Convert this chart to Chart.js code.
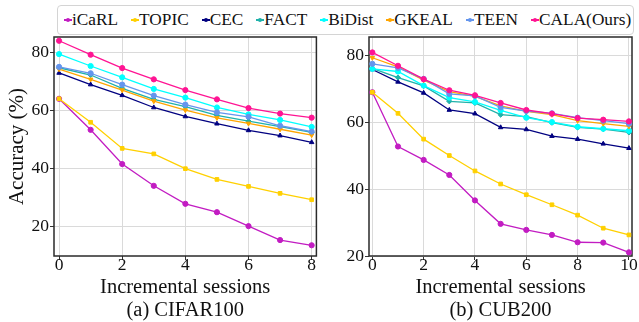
<!DOCTYPE html>
<html><head><meta charset="utf-8">
<script src="https://cdn.jsdelivr.net/npm/chart.js@4.4.1/dist/chart.umd.min.js"></script>
<style>
html,body{margin:0;padding:0;background:#fff;width:639px;height:322px;overflow:hidden;font-family:"Liberation Serif","Times New Roman",serif;}
#wrap{position:relative;width:639px;height:322px;}
.cv{position:absolute;top:0;height:322px;}
#c1box{left:0;width:320px;}
#c2box{left:320px;width:319px;}
#legend{position:absolute;left:57px;top:5px;width:569px;height:28px;border:1px solid #d4d4d4;border-radius:4px;background:#fff;display:flex;align-items:center;padding-left:6px;z-index:2;font-size:17.3px;color:#111;}
.item{display:flex;align-items:center;margin-right:13px;white-space:nowrap;}
.mk{position:relative;width:8px;height:8px;margin-right:0px;}
.mk .ln{position:absolute;left:0;top:3.4px;width:8px;height:1.3px;}
.mk .dt{position:absolute;left:2px;top:2px;width:4px;height:4px;border-radius:50%;}
</style>
</head><body>
<div id="wrap">
  <div id="legend"></div>
  <div class="cv" id="c1box"><canvas id="c1" width="320" height="322"></canvas></div>
  <div class="cv" id="c2box"><canvas id="c2" width="319" height="322"></canvas></div>
</div>
<script>
// ---------- data ----------
const methods = ['iCaRL','TOPIC','CEC','FACT','BiDist','GKEAL','TEEN','CALA(Ours)'];
const sessionsCifar = [0,1,2,3,4,5,6,7,8];
const sessionsCub = [0,1,2,3,4,5,6,7,8,9,10];
const xTicksCifar = [0,2,4,6,8];
const xTicksCub = [0,2,4,6,8,10];
const yTicksCifar = [20,40,60,80];
const yTicksCub = [20,40,60,80];

// CIFAR100
const cifarICaRL  = [64.1,53.4,41.6,34.1,27.9,25.0,20.2,15.4,13.6];
const cifarTOPIC  = [64.1,56.0,47.0,45.1,40.0,36.3,33.9,31.5,29.3];
const cifarCEC    = [73.0,69.0,65.3,61.1,58.0,55.5,53.2,51.4,49.1];
const cifarFACT   = [74.8,72.3,67.7,63.9,61.4,58.4,56.4,54.5,52.5];
const cifarBiDist = [79.5,75.4,71.5,67.5,64.5,61.1,58.7,56.8,54.4];
const cifarGKEAL  = [74.3,70.8,67.1,63.3,60.2,57.5,55.6,53.6,51.6];
const cifarTEEN   = [75.1,72.9,69.0,65.2,62.1,59.4,57.9,54.8,52.8];
const cifarCALA   = [84.1,79.3,74.7,70.8,67.1,63.9,60.9,59.0,57.6];

// CUB200
const cubICaRL  = [68.9,52.7,48.7,44.2,36.6,29.6,27.8,26.3,24.1,24.0,21.1];
const cubTOPIC  = [68.9,62.6,54.9,50.0,45.4,41.5,38.3,35.3,32.2,28.3,26.3];
const cubCEC    = [75.7,72.0,68.7,63.6,62.5,58.4,57.8,55.8,54.9,53.5,52.2];
const cubFACT   = [76.0,73.3,70.8,66.2,65.7,62.2,61.6,59.8,58.4,57.9,56.9];
const cubBiDist = [75.9,75.1,70.9,67.3,66.0,63.5,61.3,60.0,58.6,58.0,57.4];
const cubGKEAL  = [79.2,76.5,72.5,69.1,67.7,64.8,63.2,62.2,60.4,59.5,58.7];
const cubTEEN   = [77.4,76.2,72.9,68.4,67.8,64.4,63.3,62.6,61.3,60.4,59.5];
const cubCALA   = [80.8,76.8,72.8,69.5,68.0,65.7,63.6,62.5,61.2,60.7,60.2];

const cifarSeries = [cifarICaRL,cifarTOPIC,cifarCEC,cifarFACT,cifarBiDist,cifarGKEAL,cifarTEEN,cifarCALA];
const cubSeries = [cubICaRL,cubTOPIC,cubCEC,cubFACT,cubBiDist,cubGKEAL,cubTEEN,cubCALA];

// ---------- styles ----------
const colors = ['#c21cc2','#ffd000','#000080','#20b2aa','#00ffff','#ffa500','#6495ed','#ff1493'];
const pstyles = ['circle','rect','triangle','rectRot','circle','triangle','circle','circle'];
const prot = [0,0,0,0,0,180,0,0];
const FONT = '"Liberation Serif","Times New Roman",serif';

// legend (HTML)
const lg = document.getElementById('legend');
methods.forEach((m,i)=>{
  const it = document.createElement('div'); it.className='item';
  it.innerHTML = '<div class="mk"><div class="ln" style="background:'+colors[i]+'"></div><div class="dt" style="background:'+colors[i]+'"></div></div><span>'+m+'</span>';
  lg.appendChild(it);
});

const framePlugin = {
  id:'frame',
  beforeDatasetsDraw(chart){
    const a = chart.chartArea, ctx = chart.ctx;
    ctx.save(); ctx.strokeStyle='#2a2a2a'; ctx.lineWidth=1.5;
    ctx.strokeRect(a.left, a.top, a.right-a.left, a.bottom-a.top);
    ctx.restore();
  }
};

function makeChart(id, sessions, series, xTicks, yTicks, xr, yr, caption, yTitle, yWidth, padRight){
  const datasets = series.map((vals,i)=>({
    label: methods[i],
    data: vals.map((v,k)=>({x:sessions[k], y:v})),
    borderColor: colors[i], backgroundColor: colors[i],
    borderWidth: 1.3, pointRadius: 2.6, pointHoverRadius: 2.6,
    pointStyle: pstyles[i], rotation: prot[i], pointBorderWidth: 1,
    tension: 0, clip: false, order: series.length - i
  }));
  return new Chart(document.getElementById(id), {
    type:'line',
    data:{datasets},
    options:{
      responsive:false, animation:false, events:[],
      layout:{padding:{top:37, right:padRight, left:0, bottom:0}},
      plugins:{legend:{display:false}, tooltip:{enabled:false}},
      scales:{
        x:{type:'linear', min:xr[0], max:xr[1],
          afterBuildTicks:s=>{ s.ticks = xTicks.map(v=>({value:v})); },
          afterFit:s=>{ s.height = 66; },
          grid:{color:'#dadada', lineWidth:1, tickLength:4, tickColor:'#333', drawTicks:true},
          border:{display:false},
          ticks:{font:{family:FONT, size:17.5, lineHeight:1.0}, color:'#111', padding:-3, maxRotation:0, autoSkip:false},
          title:{display:true, text:['Incremental sessions', caption], color:'#111',
            font:{family:FONT, size:20.5, lineHeight:1.12}, padding:{top:0,bottom:0}}
        },
        y:{type:'linear', min:yr[0], max:yr[1],
          afterBuildTicks:s=>{ s.ticks = yTicks.map(v=>({value:v})); },
          afterFit:s=>{ s.width = yWidth; },
          grid:{color:'#dadada', lineWidth:1, tickLength:4, tickColor:'#333', drawTicks:true},
          border:{display:false},
          ticks:{font:{family:FONT, size:17.5}, color:'#111', padding:1},
          title:{display: !!yTitle, text: yTitle || '', color:'#111',
            font:{family:FONT, size:21}, padding:{top:5,bottom:0}}
        }
      }
    },
    plugins:[framePlugin]
  });
}

makeChart('c1', sessionsCifar, cifarSeries, xTicksCifar, yTicksCifar, [-0.16, 8.15], [9.9, 85.4], '(a) CIFAR100', 'Accuracy (%)', 54, 3);
makeChart('c2', sessionsCub, cubSeries, xTicksCub, yTicksCub, [-0.13, 10.12], [20, 85.4], '(b) CUB200', null, 49, 7);
</script>
</body></html>
